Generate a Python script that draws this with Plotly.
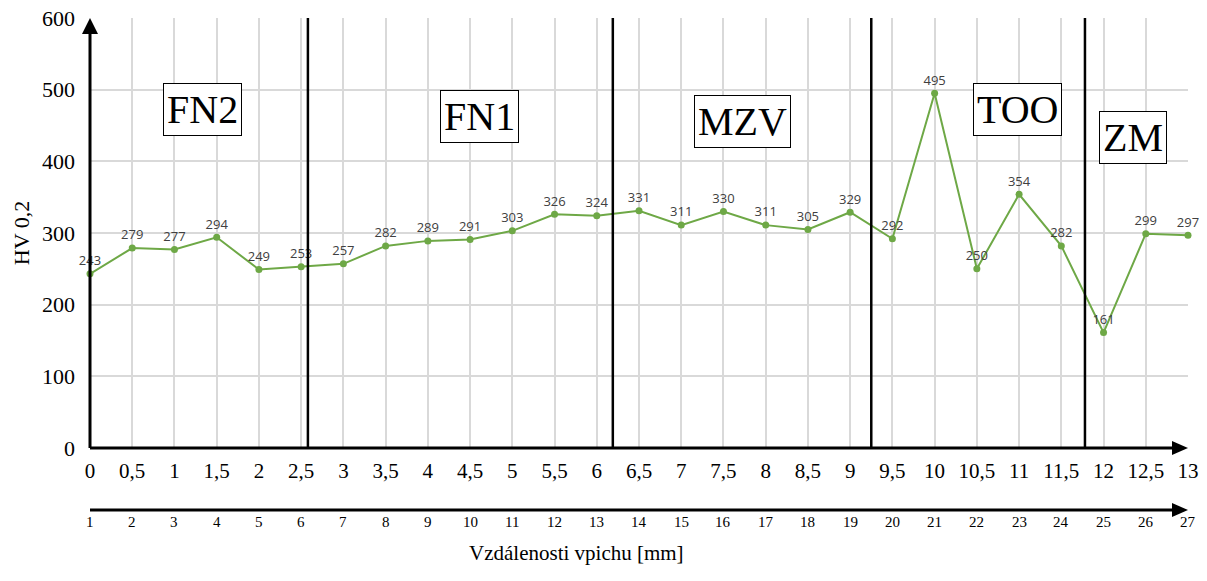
import plotly.graph_objects as go

# Indentation positions [mm] and hardness HV 0.2
distance_mm = [0, 0.5, 1, 1.5, 2, 2.5, 3, 3.5, 4, 4.5, 5, 5.5, 6, 6.5, 7, 7.5, 8, 8.5,
               9, 9.5, 10, 10.5, 11, 11.5, 12, 12.5, 13]
hardness = [243, 279, 277, 294, 249, 253, 257, 282, 289, 291, 303, 326, 324, 331, 311, 330,
            311, 305, 329, 292, 495, 250, 354, 282, 161, 299, 297]
indent_no = list(range(1, len(distance_mm) + 1))
tick_text = [f"{v:g}".replace(".", ",") for v in distance_mm]

# Zone boundaries and zone label placement
zone_bounds = [2.58, 6.19, 9.25, 11.78]
zone_names = ["FN2", "FN1", "MZV", "TOO", "ZM"]
zone_label_x = [1.33, 4.61, 7.72, 10.98, 12.35]
zone_label_y = [472, 462, 455, 473, 433]

SERIF = "'Times New Roman', 'Liberation Serif', 'DejaVu Serif', serif"
SANS = "'Open Sans', 'Liberation Sans', sans-serif"
GREEN = "#6ea846"

fig = go.Figure()
fig.add_trace(go.Scatter(
    x=distance_mm, y=hardness, mode="lines+markers+text",
    line=dict(color=GREEN, width=2),
    marker=dict(color=GREEN, size=7),
    text=[str(v) for v in hardness], textposition="top center",
    textfont=dict(family=SANS, size=13, color="#404040"),
    cliponaxis=False, showlegend=False,
))

shapes = []
# zone separators
for b in zone_bounds:
    shapes.append(dict(type="line", xref="x", yref="y", x0=b, x1=b, y0=0, y1=600,
                       line=dict(color="black", width=2.5), layer="above"))
# main axes with arrowheads (paper refs so they are not clipped at the plot edge)
shapes.append(dict(type="line", xref="paper", yref="paper", x0=0, x1=0, y0=0, y1=0.97,
                   line=dict(color="black", width=3), layer="above"))
shapes.append(dict(type="path", xref="paper", yref="paper", xsizemode="pixel", ysizemode="pixel",
                   xanchor=0, yanchor=1, path="M -8 -16 L 8 -16 L 0 0 Z",
                   fillcolor="black", line=dict(width=0), layer="above"))
shapes.append(dict(type="line", xref="paper", yref="paper", x0=0, x1=0.988, y0=0, y1=0,
                   line=dict(color="black", width=3), layer="above"))
shapes.append(dict(type="path", xref="paper", yref="paper", xsizemode="pixel", ysizemode="pixel",
                   xanchor=1, yanchor=0, path="M -16 -7 L -16 7 L 0 0 Z",
                   fillcolor="black", line=dict(width=0), layer="above"))
# secondary axis for indentation numbers
AX2_Y = -0.144
shapes.append(dict(type="line", xref="paper", yref="paper", x0=0, x1=0.988, y0=AX2_Y, y1=AX2_Y,
                   line=dict(color="black", width=3), layer="above"))
shapes.append(dict(type="path", xref="paper", yref="paper", xsizemode="pixel", ysizemode="pixel",
                   xanchor=1, yanchor=AX2_Y, path="M -16 -7 L -16 7 L 0 0 Z",
                   fillcolor="black", line=dict(width=0), layer="above"))

annotations = []
for name, lx, ly in zip(zone_names, zone_label_x, zone_label_y):
    annotations.append(dict(x=lx, y=ly, xref="x", yref="y", text=name, showarrow=False,
                            font=dict(family=SERIF, size=40, color="black"),
                            bgcolor="white", bordercolor="black", borderwidth=1, borderpad=3))
for xv, n in zip(distance_mm, indent_no):
    annotations.append(dict(x=xv, y=-0.195, xref="x", yref="paper", text=str(n),
                            showarrow=False, font=dict(family=SERIF, size=15, color="black")))
annotations.append(dict(x=0.4435, y=-0.277, xref="paper", yref="paper",
                        text="Vzdálenosti vpichu [mm]", showarrow=False,
                        font=dict(family=SERIF, size=21, color="black")))

fig.update_layout(
    width=1207, height=581,
    margin=dict(l=90, r=19, t=18, b=133, autoexpand=False),
    paper_bgcolor="white", plot_bgcolor="white",
    font=dict(family=SERIF),
    shapes=shapes, annotations=annotations,
    xaxis=dict(range=[0, 13], tickvals=distance_mm, ticktext=tick_text,
               showgrid=True, gridcolor="#d9d9d9", gridwidth=1.5,
               zeroline=False, showline=False, ticks="", automargin=False,
               tickfont=dict(family=SERIF, size=21, color="black"),
               ticklabelstandoff=8),
    yaxis=dict(range=[0, 600], dtick=100, showgrid=True, gridcolor="#d9d9d9", gridwidth=1.5,
               zeroline=False, showline=False, ticks="", automargin=False,
               tickfont=dict(family=SERIF, size=22, color="black"),
               ticklabelstandoff=14,
               title=dict(text="HV 0,2", font=dict(family=SERIF, size=22, color="black"),
                          standoff=6)),
)

fig.write_html("out.html")
